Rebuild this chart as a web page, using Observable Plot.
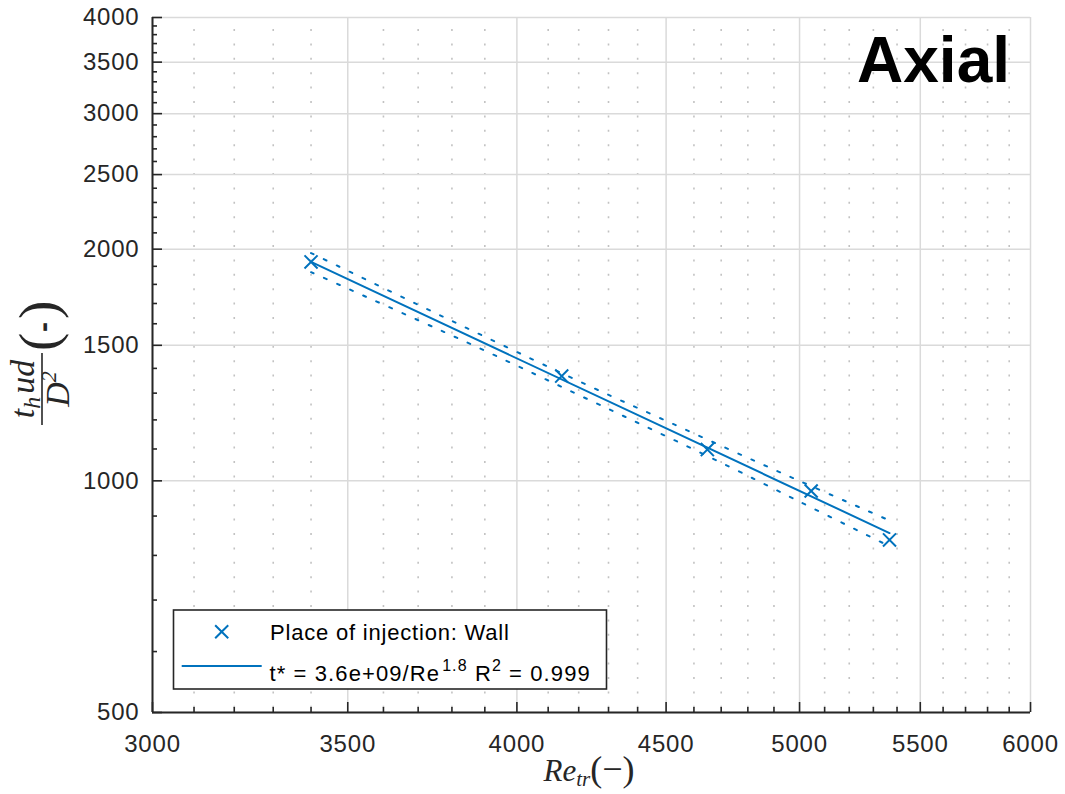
<!DOCTYPE html>
<html>
<head>
<meta charset="utf-8">
<script src="https://cdn.jsdelivr.net/npm/d3@7"></script>
<script src="https://cdn.jsdelivr.net/npm/@observablehq/plot@0.6"></script>
<style>
  html, body { margin: 0; padding: 0; background: #fff; }
  #chart svg { display: block; }
</style>
</head>
<body>
<div id="chart"></div>
<script>
// Measured mixing times against transitional Reynolds number (wall injection)
const reynolds   = [3400, 4144, 4649, 5046, 5368];
const mixingTime = [1925, 1368, 1098, 970, 838];

// Power-law fit t* = C / Re^b
const fitCoef = 3.6e9;
const fitExp  = 1.776;
const fitR2   = 0.999;

// Confidence bounds of the fit
const bandRe    = [3400, 3844, 4248, 4480, 4736, 4996, 5365];
const bandUpper = [1977, 1580, 1321, 1206, 1096, 1001, 889];
const bandLower = [1867, 1514, 1267, 1152, 1041, 941, 823];

// Tick values
const xMajor = [3000, 3500, 4000, 4500, 5000, 5500, 6000];
const xMinor = [3100, 3200, 3300, 3400, 3600, 3700, 3800, 3900,
                4100, 4200, 4300, 4400, 4600, 4700, 4800, 4900,
                5100, 5200, 5300, 5400, 5600, 5700, 5800, 5900];
const yMajor = [500, 1000, 1500, 2000, 2500, 3000, 3500, 4000];
const yMinor = [600, 700, 800, 900, 1100, 1200, 1300, 1400, 1600, 1700, 1800, 1900,
                2100, 2200, 2300, 2400, 2600, 2700, 2800, 2900,
                3100, 3200, 3300, 3400, 3600, 3700, 3800, 3900];

const blue = "#0072BD";
const ink = "#262626";

const W = 1065, H = 794;
const mL = 152, mR = 35, mT = 17, mB = 82;
const frameW = W - mL - mR, frameH = H - mT - mB;

const points = reynolds.map((re, i) => ({re, t: mixingTime[i]}));
const band = bandRe.map((re, i) => ({re, hi: bandUpper[i], lo: bandLower[i]}));
const fitLine = d3.extent(reynolds).map(re => ({re, t: fitCoef * Math.pow(re, -fitExp)}));

const sansFont = "'Liberation Sans', Arial, sans-serif";
const mathFont = "'Liberation Serif', 'Times New Roman', serif";

const chart = Plot.plot({
  width: W,
  height: H,
  marginLeft: mL,
  marginRight: mR,
  marginTop: mT,
  marginBottom: mB,
  style: {fontFamily: sansFont, fontSize: "24px", letterSpacing: "0.8px", color: ink, background: "#fff"},
  x: {type: "log", domain: [3000, 6000]},
  y: {type: "log", domain: [500, 4000]},
  marks: [
    // minor (dotted) and major grid
    Plot.ruleX(xMinor, {stroke: "#c2c2c2", strokeWidth: 1.6, strokeDasharray: "2,12.4", strokeDashoffset: 2.4}),
    Plot.ruleX(xMajor, {stroke: "#dadada", strokeWidth: 1.5}),
    Plot.ruleY(yMajor, {stroke: "#dadada", strokeWidth: 1.5}),
    // confidence bounds
    Plot.line(band, {x: "re", y: "hi", stroke: blue, strokeWidth: 2, strokeDasharray: "3,11.3", curve: "catmull-rom"}),
    Plot.line(band, {x: "re", y: "lo", stroke: blue, strokeWidth: 2, strokeDasharray: "3,11.3", curve: "catmull-rom"}),
    // fitted power law
    Plot.line(fitLine, {x: "re", y: "t", stroke: blue, strokeWidth: 2}),
    // measurements
    Plot.dot(points, {x: "re", y: "t", symbol: "times", r: 6, stroke: blue, strokeWidth: 2}),
    // axis lines
    Plot.ruleY([500], {stroke: ink, strokeWidth: 2}),
    Plot.ruleX([3000], {stroke: ink, strokeWidth: 2}),
    // inward tick marks
    Plot.ruleX(xMajor, {stroke: ink, strokeWidth: 1.6, insetTop: frameH - 10}),
    Plot.ruleX(xMinor, {stroke: ink, strokeWidth: 1.6, insetTop: frameH - 5}),
    Plot.ruleY(yMajor, {stroke: ink, strokeWidth: 1.6, insetRight: frameW - 10}),
    Plot.ruleY(yMinor, {stroke: ink, strokeWidth: 1.6, insetRight: frameW - 5}),
    // tick labels
    Plot.axisX({ticks: xMajor, tickSize: 0, tickPadding: 22, tickFormat: d => String(d), label: null,
                fill: ink, fontSize: 24, fontFamily: sansFont}),
    Plot.axisY({ticks: yMajor, tickSize: 0, tickPadding: 13, tickFormat: d => String(d), label: null,
                fill: ink, fontSize: 24, fontFamily: sansFont})
  ]
});

document.getElementById("chart").appendChild(chart);

const svg = d3.select(chart);

// Panel title
svg.append("text")
  .attr("x", 1010).attr("y", 82)
  .attr("text-anchor", "end").attr("letter-spacing", 0)
  .attr("font-family", sansFont).attr("font-weight", "bold").attr("font-size", 64)
  .attr("fill", "#000")
  .text("Axial");

// x-axis label: Re_tr (−)
const xl = svg.append("text")
  .attr("x", 589).attr("y", 781)
  .attr("text-anchor", "middle").attr("letter-spacing", 0)
  .attr("font-family", mathFont).attr("font-size", 31).attr("fill", ink);
xl.append("tspan").attr("font-style", "italic").text("Re");
xl.append("tspan").attr("font-style", "italic").attr("font-size", 21).attr("dy", 5).text("tr");
xl.append("tspan").attr("dy", -5).attr("font-size", 36).text("(−)");

// y-axis label: t_h u d / D^2 (-)
const yl = svg.append("g").attr("transform", "translate(42,389) rotate(-90)")
  .attr("fill", ink).attr("text-anchor", "start").attr("letter-spacing", 0);
const num = yl.append("text")
  .attr("x", 0).attr("y", -8)
  .attr("text-anchor", "middle")
  .attr("font-family", mathFont).attr("font-style", "italic").attr("font-size", 34);
num.append("tspan").text("t");
num.append("tspan").attr("font-size", 24).attr("dy", 6).text("h");
num.append("tspan").attr("dy", -6).attr("dx", 3).text("ud");
yl.append("line")
  .attr("x1", -36).attr("x2", 36).attr("y1", 0).attr("y2", 0)
  .attr("stroke", ink).attr("stroke-width", 1.6);
const den = yl.append("text")
  .attr("x", 0).attr("y", 27)
  .attr("text-anchor", "middle")
  .attr("font-family", mathFont).attr("font-style", "italic").attr("font-size", 34);
den.append("tspan").text("D");
den.append("tspan").attr("font-size", 22).attr("dy", -13).text("2");
yl.append("text")
  .attr("x", 38).attr("y", 15)
  .attr("font-family", mathFont).attr("font-size", 55)
  .text("(");
yl.append("text")
  .attr("x", 62).attr("y", 11)
  .attr("text-anchor", "middle")
  .attr("font-family", sansFont).attr("font-weight", "bold").attr("font-size", 30)
  .text("-");
yl.append("text")
  .attr("x", 70).attr("y", 15)
  .attr("font-family", mathFont).attr("font-size", 55)
  .text(")");

// Legend
const lg = svg.append("g")
  .attr("font-family", sansFont).attr("font-size", 22).attr("fill", "#000")
  .attr("text-anchor", "start").attr("letter-spacing", 0.8);
lg.append("rect")
  .attr("x", 173.5).attr("y", 610).attr("width", 433).attr("height", 79)
  .attr("fill", "#fff").attr("stroke", ink).attr("stroke-width", 1.6);
lg.append("path")
  .attr("d", d3.symbol(d3.symbolTimes, Math.PI * 6 * 6)())
  .attr("transform", "translate(221.7,631.7)")
  .attr("fill", "none").attr("stroke", blue).attr("stroke-width", 2);
lg.append("text").attr("x", 270).attr("y", 640).text("Place of injection: Wall");
lg.append("line")
  .attr("x1", 181.7).attr("x2", 261.7).attr("y1", 666).attr("y2", 666)
  .attr("stroke", blue).attr("stroke-width", 2);
const [mant, ex] = fitCoef.toExponential(1).split("e");
const expTxt = (ex[0] === "-" ? "-" : "+") + String(Math.abs(+ex)).padStart(2, "0");
const eq = lg.append("text").attr("x", 269.5).attr("y", 681).attr("letter-spacing", 1.1);
eq.append("tspan").text(`t* = ${mant}e${expTxt}/Re`);
eq.append("tspan").attr("font-size", 16).attr("dy", -10).attr("dx", 2).text(fitExp.toFixed(1));
eq.append("tspan").attr("dy", 10).text(" R");
eq.append("tspan").attr("font-size", 16).attr("dy", -10).text("2");
eq.append("tspan").attr("dy", 10).text(` = ${fitR2.toFixed(3)}`);
</script>
</body>
</html>
